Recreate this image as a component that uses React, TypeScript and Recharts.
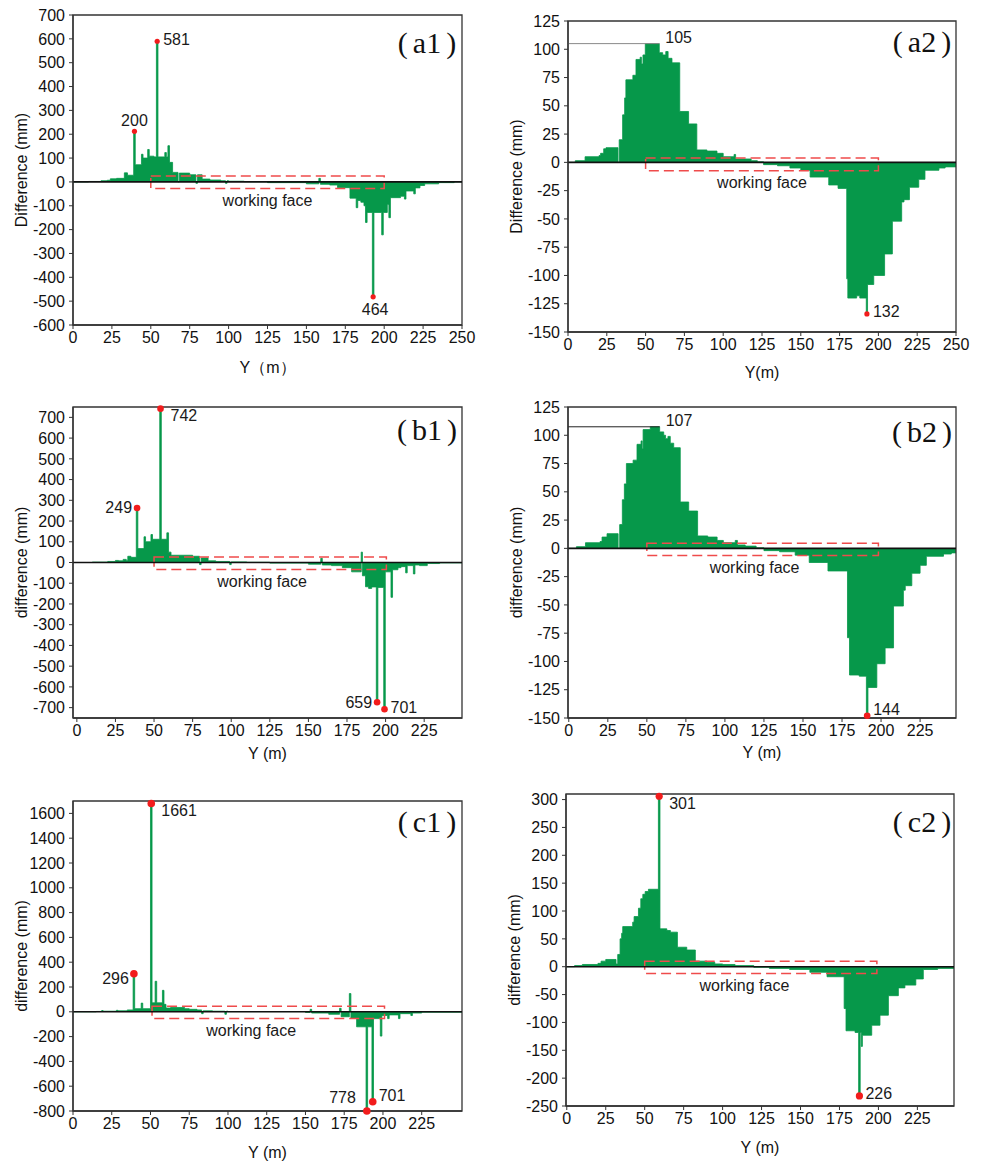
import {
  ComposedChart,
  Area,
  XAxis,
  YAxis,
  ReferenceLine,
  ReferenceArea,
  ReferenceDot,
} from "recharts";

type Step = [number, number];
type Mark = { x: number; y: number; text: string; place: string };
type Face = { x1: number; x2: number; y1: number; y2: number; textX: number };
type Guide = { x: number; y: number; text: string };

// x tick labels
const X_TICKS_250 = [0, 25, 50, 75, 100, 125, 150, 175, 200, 225, 250];
const X_TICKS_225 = [0, 25, 50, 75, 100, 125, 150, 175, 200, 225];

// y tick labels
const A1_Y_TICKS = [-600, -500, -400, -300, -200, -100, 0, 100, 200, 300, 400, 500, 600, 700];
const A2_Y_TICKS = [-150, -125, -100, -75, -50, -25, 0, 25, 50, 75, 100, 125];
const B1_Y_TICKS = [-700, -600, -500, -400, -300, -200, -100, 0, 100, 200, 300, 400, 500, 600, 700];
const B2_Y_TICKS = [-150, -125, -100, -75, -50, -25, 0, 25, 50, 75, 100, 125];
const C1_Y_TICKS = [-800, -600, -400, -200, 0, 200, 400, 600, 800, 1000, 1200, 1400, 1600];
const C2_Y_TICKS = [-250, -200, -150, -100, -50, 0, 50, 100, 150, 200, 250, 300];

// difference (mm) by Y (m): [start of step, value]
const A1_STEPS: Step[] = [
  [0, 0], [10, 2], [18, 5], [22, 7], [24, 13], [28, 15], [33, 38], [35, 28],
  [39, 212], [40, 72], [44, 116], [45, 100], [48, 136], [49, 108], [52, 105],
  [53.6, 590], [54.6, 105], [59, 123], [60, 105], [61, 152], [62, 82], [64, 40],
  [67.5, 0], [68.3, 37], [75, 30], [79, -6], [80, 30], [83, 12], [88, 8], [95, 5],
  [98, -6], [99, 5], [100, 3], [110, 1], [125, -3], [150, -8], [158, 15], [159, -10],
  [165, -13], [170, -24], [178, -68], [182, -108], [183, -78], [185, -85], [187, -100],
  [188, -170], [189, -128], [192.4, -482], [193.4, -128], [198.4, -222], [199.4, -128],
  [202, -95], [203, -150], [204, -66], [210.5, -60], [213, -72], [214, -38], [219, -50],
  [220, -25], [223, -15], [226, -8], [235, -3], [245, 0], [250, 0],
];

const A2_STEPS: Step[] = [
  [0, 0], [4.7, 1.5], [11, 5], [20, 6], [21, 8], [23, 12], [24.5, 13], [32.2, 0],
  [33, 20], [35.2, 42], [36.5, 57], [37.3, 73], [41.8, 77], [43.8, 91], [46.5, 93],
  [47.3, 87], [48.3, 95], [49.8, 105], [58.8, 97], [61, 95], [63, 98], [64.5, 92],
  [67, 88], [72, 45], [77.7, 34], [83, 11], [89.5, 10], [96, 8], [100, 5], [107, 7],
  [108, 3], [118, 1.5], [122, 0.5], [126, -2], [135, -3], [143, -5], [150, -7],
  [156, -13], [168, -20], [174, -23], [179.6, -103], [180.3, -120], [186, -118],
  [188, -120], [192.2, -134], [193, -108], [197, -100], [204, -81], [209, -52],
  [215, -35], [216.5, -33], [220, -22], [226, -15], [230, -7], [239, -5], [243, -4],
  [250, -4],
];

const B1_STEPS: Step[] = [
  [-2.5, 0], [10, 2], [20, 5], [25, 10], [27, 8], [30, 15], [32, 10], [33, 30],
  [35, 25], [38.5, 263], [39.5, 67], [43.5, 124], [44.5, 100], [48, 135], [49, 112],
  [53.7, 742], [54.7, 112], [58.3, 143], [59.4, 50], [61, 35], [75, 30], [79.5, -10],
  [80.5, 22], [85, 8], [90, 5], [99, -10], [100, 3], [110, 1], [125, -3], [150, -8],
  [158, 20], [159, -12], [165, -15], [172, -25], [178, -45], [184.2, 50], [185, -64],
  [187, -117], [189, -125], [191, -118], [194, -674], [195, -120], [198.8, -708],
  [199.8, -45], [203.5, -168], [204.5, -35], [208, -25], [210, -20], [213, -50],
  [214, -15], [218, -55], [219, -12], [222, -15], [227, -5], [235, -2], [249.5, -2],
];

const B2_STEPS: Step[] = [
  [-0.5, 0], [4.9, 1.5], [10.7, 5], [20, 6], [21.3, 10], [24.5, 13], [31.6, 0],
  [32.6, 21], [34.3, 43], [35.6, 57], [36.9, 75], [41.2, 78], [43.7, 92], [46.3, 95],
  [47, 88], [47.6, 105], [52.2, 107.5], [58.2, 103], [60.8, 100], [62, 97],
  [63.5, 99], [65, 93], [67.2, 89], [71.4, 41], [76.8, 33], [82.5, 11], [89, 10],
  [95, 7], [99, 5], [106.6, 7], [108, 3], [113, 2], [120, 0.5], [125, -2], [135, -3],
  [145, -6], [154, -12.5], [166, -20], [178.5, -79], [179.8, -112], [186, -113],
  [190.6, -148], [191.6, -123], [197.3, -102], [202.6, -88], [208, -51], [214.3, -37],
  [215.5, -33], [219.7, -22], [225, -15], [229, -7], [240, -5], [245, -4], [248, -4],
];

const C1_STEPS: Step[] = [
  [0, 0], [15, 3], [18.5, 10], [19.5, 3], [20, 5], [28, 12], [29, 8], [35, 15],
  [38.8, 307], [39.8, 25], [44, 70], [45, 25], [50, 1680], [51, 72], [53, 246],
  [54, 72], [57.7, 173], [58.7, 60], [60, 30], [63, 35], [72, 25], [75, 20], [80, 15],
  [83, -15], [84, 8], [90, 5], [98, -20], [99, 5], [100, 2], [150, -5], [153, 20],
  [154, -10], [165, -20], [172, 28], [173, -40], [178.3, 147], [179.3, -50],
  [181, -54], [183, -121], [189.1, -800], [190.1, -121], [192.9, -725], [193.9, -55],
  [198.3, -196], [199.3, -30], [203, -55], [204, -25], [210, -55], [211, -15],
  [218, -30], [219, -10], [225, -3], [251, 0],
];

const C2_STEPS: Step[] = [
  [-0.5, 0], [5, 2], [10, 4], [20, 6], [22, 10], [25, 13], [31.6, 5], [32.7, 22],
  [34.2, 50], [35.2, 60], [35.9, 72], [42.3, 80], [43.2, 90], [46, 105], [47.5, 122],
  [48.8, 130], [50.3, 135], [52.4, 139], [58.8, 306], [59.8, 68], [64.2, 65],
  [66.5, 62], [71, 35], [77, 30], [82.5, 10], [90, 8], [95, 5], [100, 4], [108, 2],
  [120, -1], [130, -3], [143, -5], [156, -10], [167, -18], [178, -75], [179.2, -115],
  [185, -118], [187.3, -232], [188.3, -118], [189, -143], [189.7, -123],
  [195.7, -105], [201, -87], [206.4, -52], [212.8, -38], [217, -33], [224, -22],
  [228.8, -5], [238, -3], [248.5, -3],
];

// annotated extremes
const A1_MARKS: Mark[] = [
  { x: 39.5, y: 212, text: "200", place: "top" },
  { x: 54.1, y: 590, text: "581", place: "right" },
  { x: 192.9, y: -482, text: "464", place: "bottom" },
];
const A2_MARKS: Mark[] = [{ x: 192.6, y: -134, text: "132", place: "right" }];
const B1_MARKS: Mark[] = [
  { x: 39, y: 263, text: "249", place: "left" },
  { x: 54.2, y: 742, text: "742", place: "downRight" },
  { x: 194.5, y: -674, text: "659", place: "left" },
  { x: 199.3, y: -708, text: "701", place: "right" },
];
const B2_MARKS: Mark[] = [{ x: 191.1, y: -148, text: "144", place: "upRight" }];
const C1_MARKS: Mark[] = [
  { x: 39.3, y: 307, text: "296", place: "downLeft" },
  { x: 50.5, y: 1680, text: "1661", place: "downRight" },
  { x: 189.6, y: -800, text: "778", place: "upLeft" },
  { x: 193.4, y: -725, text: "701", place: "upRight" },
];
const C2_MARKS: Mark[] = [
  { x: 59.3, y: 306, text: "301", place: "downRight" },
  { x: 187.8, y: -232, text: "226", place: "right" },
];

const A2_GUIDE: Guide = { x: 58.8, y: 105, text: "105" };
const B2_GUIDE: Guide = { x: 58.2, y: 107.5, text: "107" };

// working face outline
const A1_FACE: Face = { x1: 50, x2: 200, y1: -28, y2: 25, textX: 125 };
const A2_FACE: Face = { x1: 50, x2: 200, y1: -7.4, y2: 3.8, textX: 125 };
const B1_FACE: Face = { x1: 50, x2: 200.5, y1: -34, y2: 27, textX: 120 };
const B2_FACE: Face = { x1: 50, x2: 198.3, y1: -6.3, y2: 4.6, textX: 119 };
const C1_FACE: Face = { x1: 51, x2: 201, y1: -54, y2: 45, textX: 115 };
const C2_FACE: Face = { x1: 50, x2: 199, y1: -12, y2: 9.6, textX: 114 };

const GREEN = "#06984a";
const RED = "#f21c1c";
const DASH_RED = "#ef4b4b";
const FRAME = "#333";
const FONT = "'Liberation Sans', Arial, sans-serif";
const FS = 16;
const Y_AXIS_W = 104;
const M_TOP = 15;
const M_RIGHT = 22;

const PLACES: Record<string, [number, number, "start" | "middle" | "end"]> = {
  top: [0, -11, "middle"],
  bottom: [2, 13, "middle"],
  right: [6, -2, "start"],
  left: [-5, 0, "end"],
  upRight: [6, -6, "start"],
  downRight: [10, 7, "start"],
  downLeft: [-5, 5, "end"],
  upLeft: [-11, -14, "end"],
};

type PanelCfg = {
  tag: string;
  tagAt: [number, number];
  steps: Step[];
  xDomain: [number, number];
  xTicks: number[];
  yDomain: [number, number];
  yTicks: number[];
  xLabel: string;
  yLabel: string;
  marks: Mark[];
  face: Face;
  guide?: Guide;
  guideColor?: string;
  box: { left: number; top: number; width: number; height: number };
  xAxisH: number;
  dotR: number;
};

const PANELS: PanelCfg[] = [
  {
    tag: "a1", tagAt: [427, 43], steps: A1_STEPS, xDomain: [0, 250], xTicks: X_TICKS_250,
    yDomain: [-600, 700], yTicks: A1_Y_TICKS, xLabel: "Y（m）", yLabel: "Difference (mm)",
    marks: A1_MARKS, face: A1_FACE, box: { left: 73, top: 15, width: 389, height: 310 },
    xAxisH: 84, dotR: 2.6,
  },
  {
    tag: "a2", tagAt: [922, 42], steps: A2_STEPS, xDomain: [0, 250], xTicks: X_TICKS_250,
    yDomain: [-150, 125], yTicks: A2_Y_TICKS, xLabel: "Y(m)", yLabel: "Difference (mm)",
    marks: A2_MARKS, face: A2_FACE, guide: A2_GUIDE, guideColor: "#8a8a8a",
    box: { left: 568, top: 21, width: 388, height: 311 }, xAxisH: 80, dotR: 2.6,
  },
  {
    tag: "b1", tagAt: [427, 430], steps: B1_STEPS, xDomain: [-2.5, 249.5], xTicks: X_TICKS_225,
    yDomain: [-750, 750], yTicks: B1_Y_TICKS, xLabel: "Y (m)", yLabel: "difference (mm)",
    marks: B1_MARKS, face: B1_FACE, box: { left: 73, top: 407, width: 389, height: 311 },
    xAxisH: 70, dotR: 3.3,
  },
  {
    tag: "b2", tagAt: [922, 432], steps: B2_STEPS, xDomain: [-0.5, 248], xTicks: X_TICKS_225,
    yDomain: [-150, 125], yTicks: B2_Y_TICKS, xLabel: "Y (m)", yLabel: "difference (mm)",
    marks: B2_MARKS, face: B2_FACE, guide: B2_GUIDE, guideColor: "#222",
    box: { left: 568, top: 407, width: 388, height: 311 }, xAxisH: 68, dotR: 3.3,
  },
  {
    tag: "c1", tagAt: [427, 822], steps: C1_STEPS, xDomain: [0, 251], xTicks: X_TICKS_225,
    yDomain: [-800, 1700], yTicks: C1_Y_TICKS, xLabel: "Y (m)", yLabel: "difference (mm)",
    marks: C1_MARKS, face: C1_FACE, box: { left: 73, top: 801, width: 389, height: 310 },
    xAxisH: 82, dotR: 3.8,
  },
  {
    tag: "c2", tagAt: [922, 822], steps: C2_STEPS, xDomain: [-0.5, 248.5], xTicks: X_TICKS_225,
    yDomain: [-250, 310], yTicks: C2_Y_TICKS, xLabel: "Y (m)", yLabel: "difference (mm)",
    marks: C2_MARKS, face: C2_FACE, box: { left: 566, top: 794, width: 388, height: 312 },
    xAxisH: 82, dotR: 3.6,
  },
];

function markShape(text: string, place: string, r: number) {
  return (p: any) => {
    const [dx, dy, anchor] = PLACES[place];
    return (
      <g>
        {r > 0 && <circle cx={p.cx} cy={p.cy} r={r} fill={RED} />}
        <text
          x={p.cx + dx}
          y={p.cy + dy}
          textAnchor={anchor}
          dominantBaseline="central"
          fontSize={FS}
          fontFamily={FONT}
          fill="#1a1a1a"
        >
          {text}
        </text>
      </g>
    );
  };
}

function faceText(p: any) {
  return (
    <text
      x={p.cx}
      y={p.cy + 12}
      textAnchor="middle"
      dominantBaseline="central"
      fontSize={FS}
      fontFamily={FONT}
      fill="#1a1a1a"
    >
      working face
    </text>
  );
}

function Panel({ p }: { p: PanelCfg }) {
  const data = p.steps.map(([x, v]) => ({ x, v }));
  const W = Y_AXIS_W + p.box.width + M_RIGHT;
  const H = M_TOP + p.box.height + p.xAxisH;
  const tick = { fontSize: FS, fill: "#111", fontFamily: FONT };

  return (
    <>
      <div style={{ position: "absolute", left: p.box.left - Y_AXIS_W, top: p.box.top - M_TOP }}>
        <ComposedChart
          width={W}
          height={H}
          data={data}
          margin={{ top: M_TOP, right: M_RIGHT, left: 0, bottom: 0 }}
        >
          <XAxis
            dataKey="x"
            type="number"
            domain={p.xDomain}
            ticks={p.xTicks}
            interval={0}
            allowDataOverflow
            height={p.xAxisH}
            tickSize={4}
            tickMargin={3}
            tick={tick}
            axisLine={{ stroke: FRAME, strokeWidth: 1.3 }}
            tickLine={{ stroke: FRAME }}
            label={{ value: p.xLabel, position: "center", fontSize: FS, fill: "#111", fontFamily: FONT }}
          />
          <YAxis
            type="number"
            domain={p.yDomain}
            ticks={p.yTicks}
            interval={0}
            allowDataOverflow
            width={Y_AXIS_W}
            tickSize={4}
            tickMargin={4}
            tick={tick}
            axisLine={{ stroke: FRAME, strokeWidth: 1.3 }}
            tickLine={{ stroke: FRAME }}
            label={{ value: p.yLabel, angle: -90, position: "center", fontSize: FS, fill: "#111", fontFamily: FONT }}
          />
          <Area
            dataKey="v"
            type="stepAfter"
            baseValue={0}
            fill={GREEN}
            fillOpacity={1}
            stroke={GREEN}
            strokeWidth={0.8}
            dot={false}
            activeDot={false}
            isAnimationActive={false}
          />
          <ReferenceLine y={0} stroke="#111" strokeWidth={1.6} />
          {p.guide && (
            <ReferenceLine
              segment={[
                { x: p.xDomain[0], y: p.guide.y },
                { x: p.guide.x, y: p.guide.y },
              ]}
              stroke={p.guideColor}
              strokeWidth={1}
            />
          )}
          <ReferenceArea
            x1={p.face.x1}
            x2={p.face.x2}
            y1={p.face.y1}
            y2={p.face.y2}
            fill="none"
            fillOpacity={0}
            stroke={DASH_RED}
            strokeWidth={1.5}
            strokeDasharray="10 5"
          />
          <ReferenceDot x={p.face.textX} y={p.face.y1} r={0} shape={faceText} />
          <ReferenceArea
            x1={p.xDomain[0]}
            x2={p.xDomain[1]}
            y1={p.yDomain[0]}
            y2={p.yDomain[1]}
            fill="none"
            fillOpacity={0}
            stroke={FRAME}
            strokeWidth={1.3}
            ifOverflow="visible"
          />
          {p.guide && (
            <ReferenceDot
              x={p.guide.x}
              y={p.guide.y}
              r={0}
              shape={markShape(p.guide.text, "upRight", 0)}
            />
          )}
          {p.marks.map((m) => (
            <ReferenceDot
              key={m.text + m.x}
              x={m.x}
              y={m.y}
              r={p.dotR}
              ifOverflow="visible"
              shape={markShape(m.text, m.place, p.dotR)}
            />
          ))}
        </ComposedChart>
      </div>
      <div
        style={{
          position: "absolute",
          left: p.tagAt[0],
          top: p.tagAt[1],
          transform: "translate(-50%, -50%)",
          fontFamily: "'Liberation Serif', 'Times New Roman', serif",
          fontSize: 30,
          color: "#111",
          whiteSpace: "nowrap",
        }}
      >
        <span style={{ marginRight: 5 }}>(</span>
        {p.tag}
        <span style={{ marginLeft: 5 }}>)</span>
      </div>
    </>
  );
}

export default function App() {
  return (
    <div
      style={{
        position: "absolute",
        left: 0,
        top: 0,
        width: 982,
        height: 1161,
        background: "#fff",
        overflow: "hidden",
      }}
    >
      {PANELS.map((p) => (
        <Panel key={p.tag} p={p} />
      ))}
    </div>
  );
}
